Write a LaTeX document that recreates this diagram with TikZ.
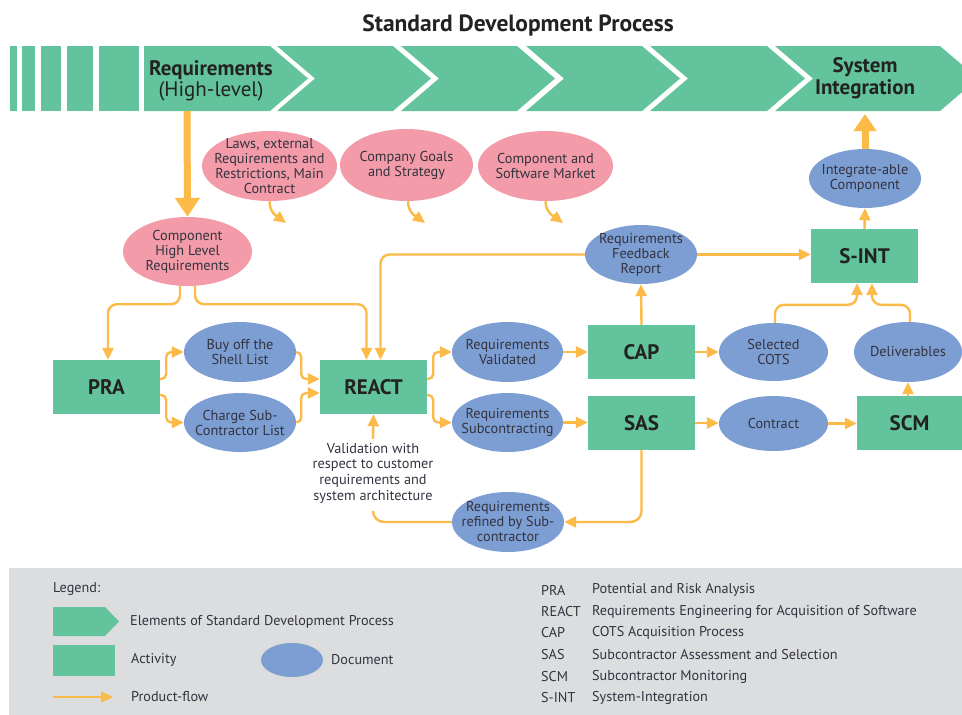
\documentclass[tikz,border=0pt]{standalone}
\usepackage{fontspec}
\setmainfont{PT Sans}
\usetikzlibrary{arrows.meta,shapes.geometric,calc}
\definecolor{sgreen}{HTML}{62C39D}
\definecolor{spink}{HTML}{F39BA8}
\definecolor{sblue}{HTML}{7D9ED2}
\definecolor{sorange}{HTML}{FCBA48}
\definecolor{lgray}{HTML}{DCDDDF}
\definecolor{txtdark}{HTML}{222222}
\definecolor{txtmid}{HTML}{333340}
\begin{document}
\begin{tikzpicture}[x=1pt,y=-1pt,
  line/.style={draw=sorange,line width=2.4pt,rounded corners=9pt},
  flow/.style={line,-{Triangle[length=12pt,width=11pt]}},
  sflow/.style={flow,rounded corners=5pt},
  bigflow/.style={draw=sorange,line width=7pt,-{Triangle[length=19pt,width=24pt]}},
  act/.style={rectangle,fill=sgreen,minimum width=107pt,minimum height=54pt,inner sep=0pt,
    font=\fontsize{21}{23}\selectfont\bfseries,text=txtdark},
  ell/.style={ellipse,inner xsep=-40pt,inner ysep=-30pt,align=center,
    font=\fontsize{14.3}{15}\selectfont,text=txtmid},
  doc/.style={ell,fill=sblue},
  req/.style={ell,fill=spink},
  ltext/.style={anchor=west,font=\fontsize{14.2}{16}\selectfont,text=txtmid,inner sep=0pt}
]
\useasboundingbox (0,0) rectangle (962,715);
\clip (0,0) rectangle (962,715);

% title
\node[font=\fontsize{23.5}{25}\selectfont\bfseries,text=txtdark] (title) at (518,25) {Standard Development Process};

% banner
\fill[sgreen] (10,46) rectangle (17,111);
\fill[sgreen] (22,46) rectangle (35,111);
\fill[sgreen] (41,46) rectangle (61,111);
\fill[sgreen] (67,46) rectangle (93,111);
\fill[sgreen] (99,46) rectangle (139,111);
\fill[sgreen] (144,46) -- (270,46) -- (308,78.5) -- (270,111) -- (144,111) -- cycle;
\foreach \l/\r in {277/393,401/517,526/642,650/767,775/940}{
  \fill[sgreen] (\l,46) -- (\r,46) -- (\r+38,78.5) -- (\r,111) -- (\l,111) -- (\l+38,78.5) -- cycle;
}
\node[align=center,text=txtdark,inner sep=0pt,font=\fontsize{21}{21}\selectfont] (reqhl) at (211,81)
  {\textbf{Requirements}\\(High-level)};
\node[align=center,text=txtdark,inner sep=0pt,font=\fontsize{21}{22}\selectfont\bfseries] (sysint) at (865,78)
  {System\\Integration};
\coordinate (bannerReq) at (187,111);
\coordinate (bannerSI) at (865,114);

% pink requirement ellipses
\node[req,minimum width=135pt,minimum height=70pt] (laws) at (269.5,166)
  {Laws, external\\Requirements and\\Restrictions, Main\\Contract};
\node[req,minimum width=133pt,minimum height=72pt] (goals) at (406.5,165)
  {Company Goals\\and Strategy};
\node[req,minimum width=135pt,minimum height=70pt] (market) at (545.5,166)
  {Component and\\Software Market};
\node[req,minimum width=129pt,minimum height=69pt] (chlr) at (187.5,251.5)
  {Component\\High Level\\Requirements};

\coordinate (lawsT) at (286,223);
\coordinate (goalsT) at (425,223);
\coordinate (marketT) at (563,223);

% activities
\node[act] (pra) at (106.5,387) {PRA};
\node[act] (react) at (373.5,387) {REACT};
\node[act] (cap) at (641.5,352) {CAP};
\node[act] (sas) at (641.5,423) {SAS};
\node[act] (sint) at (864.5,256) {S-INT};
\node[act,minimum width=105pt] (scm) at (909.5,423) {SCM};

% documents
\node[doc,minimum width=112pt,minimum height=60pt] (buy) at (240,352) {Buy off the\\Shell List};
\node[doc,minimum width=112pt,minimum height=59pt] (charge) at (240,422.5) {Charge Sub-\\Contractor List};
\node[doc,minimum width=111pt,minimum height=60pt] (rv) at (507.5,352) {Requirements\\Validated};
\node[doc,minimum width=111pt,minimum height=59pt] (rs) at (507.5,422.5) {Requirements\\Subcontracting};
\node[doc,minimum width=109pt,minimum height=58pt] (cots) at (773.5,352) {Selected\\COTS};
\node[doc,minimum width=109pt,minimum height=55pt] (contract) at (773.5,423.5) {Contract};
\node[doc,minimum width=112pt,minimum height=59pt] (fb) at (641,254.5) {Requirements\\Feedback\\Report};
\node[doc,minimum width=112pt,minimum height=59pt] (intc) at (865,178.5) {Integrate-able\\Component};
\node[doc,minimum width=108pt,minimum height=60pt] (deliv) at (908,352) {Deliverables};
\node[doc,minimum width=112pt,minimum height=60pt] (ref) at (508,522) {Requirements\\refined by Sub-\\contractor};

\node[align=center,font=\fontsize{14.3}{15.6}\selectfont,text=txtmid,inner xsep=0pt,inner ysep=4pt] (val) at (373,473)
  {Validation with\\respect to customer\\requirements and\\system architecture};

% connectors
\draw[bigflow] (bannerReq) -- (chlr.north);
\draw[bigflow,-{Triangle[length=17pt,width=22pt]}] (intc.north) -- (bannerSI);

\draw[flow,rounded corners=0pt] (laws.south) .. controls +(0,12) and +(-8,-6) .. (lawsT);
\draw[flow,rounded corners=0pt] ([xshift=1.5pt]goals.south) .. controls +(0,12) and +(-8,-6) .. (goalsT);
\draw[flow,rounded corners=0pt] (market.south) .. controls +(0,12) and +(-8,-6) .. (marketT);

\draw[flow] ([xshift=-7.5pt]chlr.south) -- ++(0,18) -| ([xshift=1.5pt]pra.north);
\draw[flow] ([xshift=7.5pt]chlr.south) -- ++(0,18) -| ([xshift=-7pt]react.north);
\draw[flow] (fb.west) -| ([xshift=7pt]react.north);
\draw[flow] (fb.east) -- (fb.east -| sint.west);
\draw[flow] (cap.north) -- (fb.south);
\draw[flow] (sint.north) -- (intc.south);

\draw[sflow] ([yshift=8pt]pra.east) -- ++(6,0) |- (buy.west);
\draw[sflow] ([yshift=-8pt]pra.east) -- ++(6,0) |- (charge.west);
\draw[sflow] (buy.east) -- ++(5,0) |- ([yshift=8pt]react.west);
\draw[sflow] (charge.east) -- ++(5,0) |- ([yshift=-6pt]react.west);
\draw[sflow] ([yshift=8pt]react.east) -- ++(6,0) |- (rv.west);
\draw[sflow] ([yshift=-8pt]react.east) -- ++(6,0) |- (rs.west);

\draw[flow] (rv.east) -- (rv.east -| cap.west);
\draw[flow] (rs.east) -- (rs.east -| sas.west);
\draw[flow] (cap.east) -- (cap.east -| cots.west);
\draw[flow] (sas.east) -- (sas.east -| contract.west);
\draw[flow] (contract.east) -- (contract.east -| scm.west);
\draw[flow] (deliv.south |- scm.north) -- (deliv.south);

\draw[flow] ([xshift=1.5pt]cots.north) -- ++(0,-18) -| ([xshift=-7.5pt]sint.south);
\draw[flow] ([xshift=2pt]deliv.north) -- ++(0,-17) -| ([xshift=7.5pt]sint.south);

\draw[flow,rounded corners=11pt] (sas.south) |- (ref.east);
\draw[line,rounded corners=11pt] (ref.west) -| ([yshift=-6pt]val.south);
\draw[flow] (val.north) -- (react.south);

% legend
\fill[lgray] (9,568) rectangle (962,715);
\node[ltext] (leg) at (53,589) {Legend:};
\fill[sgreen] (53,607) -- (105,607) -- (119,621.5) -- (105,636) -- (53,636) -- cycle;
\node[ltext] (legsdp) at (130,622) {Elements of Standard Development Process};
\fill[sgreen] (53,645) rectangle (115,676);
\node[ltext] (legact) at (131,660) {Activity};
\node[ellipse,fill=sblue,minimum width=62pt,minimum height=34pt,inner sep=0pt] (legdoc) at (292,660) {};
\node[ltext] (legdoct) at (331,660) {Document};
\coordinate (lpf1) at (53,697);
\coordinate (lpf2) at (113,697);
\draw[draw=sorange,line width=1.8pt,-{Triangle[length=12pt,width=11pt]}] (lpf1) -- (lpf2);
\node[ltext] (legpf) at (131,697) {Product-flow};

\foreach \y/\a/\d in {590/PRA/Potential and Risk Analysis,
  611.5/REACT/Requirements Engineering for Acquisition of Software,
  633/CAP/COTS Acquisition Process,
  655/SAS/Subcontractor Assessment and Selection,
  676.5/SCM/Subcontractor Monitoring,
  698/S-INT/System-Integration}{
  \node[ltext] at (541,\y) {\a};
  \node[ltext] at (592,\y) {\d};
}
\end{tikzpicture}
\end{document}
